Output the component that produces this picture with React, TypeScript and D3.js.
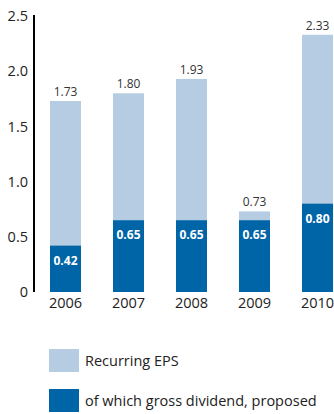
import React from "react";
import * as d3 from "d3";

const years = ["2006", "2007", "2008", "2009", "2010"];
const recurringEPS = [1.73, 1.8, 1.93, 0.73, 2.33];
const dividend = [0.42, 0.65, 0.65, 0.65, 0.8];
const yTicks = [0, 0.5, 1.0, 1.5, 2.0, 2.5];
const tickLabels = ["0", "0.5", "1.0", "1.5", "2.0", "2.5"];
const legendLabels = ["Recurring EPS", "of which gross dividend, proposed"];

const W = 334;
const H = 414;
const LIGHT = "#b6cce3";
const DARK = "#0065a6";
const FONT = "'Open Sans', 'DejaVu Sans', sans-serif";

export default function App() {
  const x = d3
    .scaleBand<string>()
    .domain(years)
    .range([34, 349])
    .paddingInner(0.508)
    .paddingOuter(0.254);
  const y = d3.scaleLinear().domain([0, 2.5]).range([292, 16]);
  const bw = x.bandwidth();

  return (
    <svg
      width={W}
      height={H}
      style={{ position: "fixed", left: 0, top: 0, background: "#fff" }}
      fontFamily={FONT}
    >
      {yTicks.map((t, i) => (
        <text
          key={t}
          x={28}
          y={y(t)}
          dy="0.36em"
          textAnchor="end"
          fontSize={14.5}
          fill="#222"
        >
          {tickLabels[i]}
        </text>
      ))}
      {years.map((yr, i) => (
        <g key={yr}>
          <rect
            x={x(yr)}
            y={y(recurringEPS[i])}
            width={bw}
            height={y(0) - y(recurringEPS[i])}
            fill={LIGHT}
          />
          <rect
            x={x(yr)}
            y={y(dividend[i])}
            width={bw}
            height={y(0) - y(dividend[i])}
            fill={DARK}
          />
          <text
            x={(x(yr) as number) + bw / 2}
            y={y(recurringEPS[i]) - 5}
            textAnchor="middle"
            fontSize={12}
            fill="#333"
          >
            {recurringEPS[i].toFixed(2)}
          </text>
          <text
            x={(x(yr) as number) + bw / 2}
            y={y(dividend[i]) + 19}
            textAnchor="middle"
            fontSize={12}
            fontWeight="bold"
            fill="#fff"
          >
            {dividend[i].toFixed(2)}
          </text>
          <text
            x={(x(yr) as number) + bw / 2}
            y={308}
            textAnchor="middle"
            fontSize={14.5}
            fill="#222"
          >
            {yr}
          </text>
        </g>
      ))}
      <line x1={34} x2={34} y1={15} y2={292} stroke="#000" strokeWidth={2} />
      {legendLabels.map((l, i) => (
        <g key={l} transform={`translate(49, ${349 + i * 40})`}>
          <rect width={30} height={23} fill={i === 0 ? LIGHT : DARK} />
          <text x={36} y={12} dy="0.36em" fontSize={14.5} fill="#222">
            {l}
          </text>
        </g>
      ))}
    </svg>
  );
}
